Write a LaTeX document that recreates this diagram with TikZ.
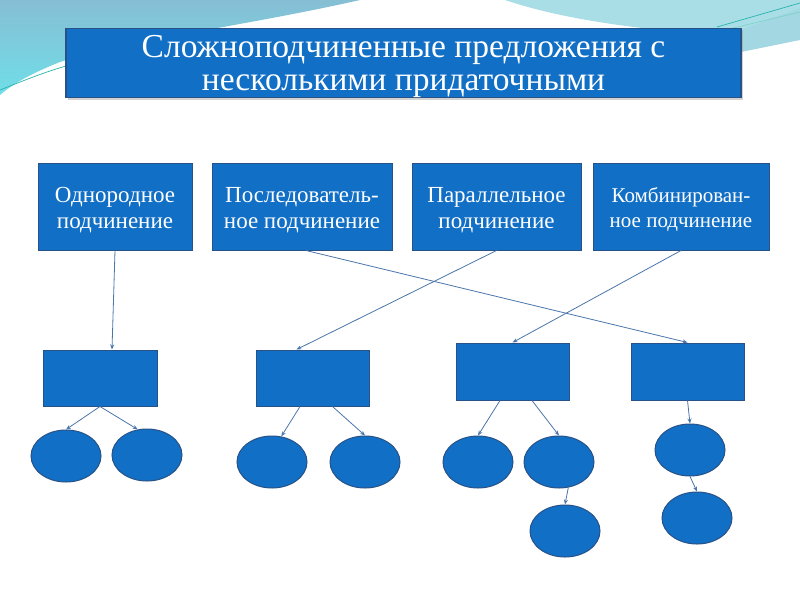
\documentclass[tikz,border=0pt]{standalone}
\usepackage{fontspec}
\setmainfont{Liberation Serif}
\usetikzlibrary{shapes.geometric,arrows.meta,shadows}
\definecolor{boxfill}{RGB}{17,111,198}
\definecolor{boxline}{RGB}{40,82,135}
\definecolor{arrowc}{RGB}{74,118,172}
\definecolor{bgtop}{RGB}{134,190,212}
\definecolor{bgcyan}{RGB}{112,222,232}
\definecolor{bgright}{RGB}{170,222,230}
\definecolor{wavel}{RGB}{40,180,170}
\newcommand{\tstrut}[1]{\rule{0pt}{#1}}
\tikzset{
  titlebox/.style={draw=boxline, line width=1.2pt, fill=boxfill, text=white, align=center, inner sep=0pt, font={\fontsize{33.5}{33}\selectfont}, drop shadow={opacity=0.35, shadow xshift=2pt, shadow yshift=-2pt}},
  topbox/.style={draw=boxline, line width=1pt, fill=boxfill, text=white, align=center, inner sep=0pt, minimum height=87pt},
  toptext/.style={font={\fontsize{23}{26}\selectfont}},
  smalltext/.style={font={\fontsize{21}{25}\selectfont}},
  subbox/.style={draw=boxline, line width=1pt, fill=boxfill, inner sep=0pt, minimum width=113pt, minimum height=56pt},
  oval/.style={ellipse, draw=boxline, line width=1pt, fill=boxfill, inner sep=0pt, minimum width=70pt, minimum height=52pt},
  conn/.style={draw=arrowc, line width=0.8pt, -{Stealth[length=5pt,width=4pt]}}
}
\begin{document}
\begin{tikzpicture}[x=1pt,y=-1pt]
\useasboundingbox (0,0) rectangle (800,600);
\fill[white] (0,0) rectangle (800,600);
% background decoration
\shade[top color=bgtop, bottom color=bgcyan] (0,0) -- (360,0) .. controls (250,25) and (130,40) .. (60,62) .. controls (35,72) and (15,82) .. (0,95) -- cycle;
\fill[bgright] (505,0) .. controls (570,22) and (660,32) .. (741,36) -- (800,22) -- (800,0) -- cycle;
\fill[bgright!80!bgtop] (741,30) -- (800,8) -- (800,40) -- (741,52) -- cycle;
\draw[wavel, line width=0.7pt] (0,90) .. controls (25,80) and (45,72) .. (66,66);
\draw[wavel, line width=0.7pt] (717,27) -- (800,3);
\draw[wavel!60!white, line width=0.7pt] (725,30) -- (800,12);
% title
\node[titlebox, minimum width=675pt, minimum height=68pt] (title) at (403.5,63)
  {\tstrut{29pt}Сложноподчиненные предложения с\\несколькими придаточными};
% top boxes
\node[topbox, toptext, minimum width=154pt] (b1) at (115,206.5) {\tstrut{22pt}Однородное\\подчинение};
\node[topbox, toptext, minimum width=180pt] (b2) at (302,206.5) {\tstrut{22pt}Последователь-\\ное подчинение};
\node[topbox, toptext, minimum width=169pt] (b3) at (496.5,206.5) {\tstrut{22pt}Параллельное\\подчинение};
\node[topbox, smalltext, minimum width=176pt] (b4) at (681,206.5) {\tstrut{22pt}Комбинирован-\\ное подчинение};
% lower rectangles
\node[subbox, minimum width=114pt] (r1) at (100,378) {};
\node[subbox] (r2) at (312.5,378) {};
\node[subbox, minimum height=57pt] (r3) at (512.5,371.5) {};
\node[subbox, minimum height=57pt] (r4) at (687.5,371.5) {};
% ovals
\node[oval] (e1) at (66,456) {};
\node[oval] (e2) at (147,455) {};
\node[oval] (e3) at (272,462) {};
\node[oval] (e4) at (365,462) {};
\node[oval] (e5) at (478,462) {};
\node[oval] (e6) at (559,462) {};
\node[oval] (e7) at (565,531) {};
\node[oval] (e8) at (690,450) {};
\node[oval] (e9) at (697,518) {};
% connectors
\draw[conn] (b1.south) -- ([xshift=12pt]r1.north);
\draw[conn] ([xshift=4pt]b2.south) -- (r4.north);
\draw[conn] (b3.south) -- ([xshift=-16pt]r2.north);
\draw[conn] (b4.south) -- (r3.north);
\draw[conn] (r1.south) -- (e1.north);
\draw[conn] (r1.south) -- (e2.110);
\draw[conn] ([xshift=-12.5pt]r2.south) -- (e3.70);
\draw[conn] ([xshift=20pt]r2.south) -- (e4.north);
\draw[conn] ([xshift=-12.5pt]r3.south) -- (e5.north);
\draw[conn] ([xshift=19.5pt]r3.south) -- (e6.north);
\draw[conn] (e6.-70) -- (e7.north);
\draw[conn] (r4.south) -- (e8.north);
\draw[conn] (e8.south) -- (e9.north);
\end{tikzpicture}
\end{document}
